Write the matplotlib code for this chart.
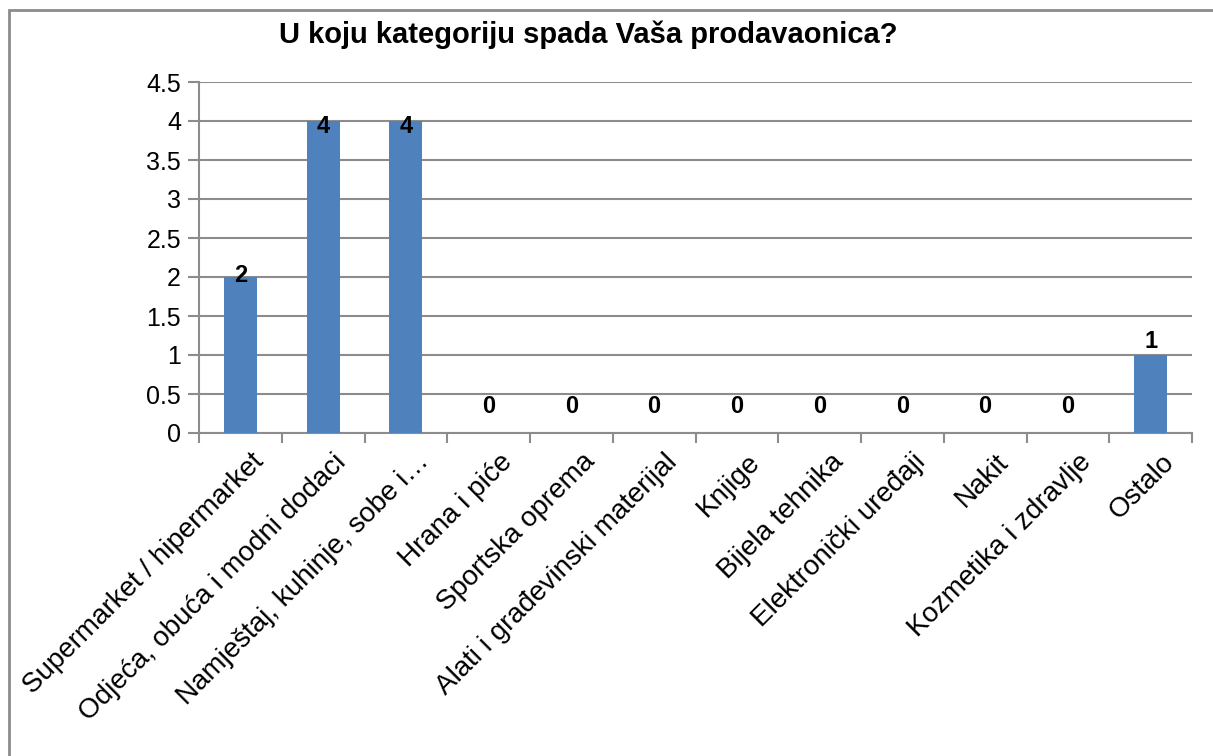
import matplotlib
matplotlib.use("Agg")
import matplotlib.pyplot as plt
from matplotlib.patches import Rectangle
from matplotlib.transforms import offset_copy
import numpy as np

plt.rcParams['font.family'] = ['Liberation Sans', 'DejaVu Sans']

title = "U koju kategoriju spada Vaša prodavaonica?"
categories = [
    "Supermarket / hipermarket",
    "Odjeća, obuća i modni dodaci",
    "Namještaj, kuhinje, sobe i…",
    "Hrana i piće",
    "Sportska oprema",
    "Alati i građevinski materijal",
    "Knjige",
    "Bijela tehnika",
    "Elektronički uređaji",
    "Nakit",
    "Kozmetika i zdravlje",
    "Ostalo",
]
values = [2, 4, 4, 0, 0, 0, 0, 0, 0, 0, 0, 1]
yticks = [0, 0.5, 1, 1.5, 2, 2.5, 3, 3.5, 4, 4.5]
ytick_labels = ["0", "0.5", "1", "1.5", "2", "2.5", "3", "3.5", "4", "4.5"]
# vertical offset of each data label centre from bar top, in points (style)
label_offsets = {4: -4, 2: 1, 1: 10, 0: 19}

W, H, DPI = 1213, 756, 100
fig = plt.figure(figsize=(W / DPI, H / DPI), dpi=DPI)
fig.patch.set_facecolor("white")

# outer frame (top and left edges visible)
fig.add_artist(Rectangle((9 / W, -0.05), 1.2, (H - 10) / H + 0.05,
                         transform=fig.transFigure, fill=False,
                         edgecolor="#8c8c8c", linewidth=2))

ax = fig.add_axes([199 / W, 1 - 433 / H, (1192 - 199) / W, (433 - 82) / H])
x = np.arange(len(categories))
ax.bar(x, values, width=0.40, color="#4F81BD", zorder=3)

ax.set_xlim(-0.5, len(categories) - 0.5)
ax.set_ylim(0, 4.5)
ax.set_yticks(yticks)
ax.set_yticklabels(ytick_labels, fontsize=18)
ax.yaxis.grid(True, color="#8c8c8c", linewidth=1.5, zorder=0)

for s in ["top", "right"]:
    ax.spines[s].set_visible(False)
for s in ["left", "bottom"]:
    ax.spines[s].set_color("#8c8c8c")
    ax.spines[s].set_linewidth(1.5)

ax.tick_params(axis="y", length=8, width=1.5, color="#8c8c8c", pad=5)
ax.set_xticks(np.arange(-0.5, len(categories), 1.0))
ax.set_xticklabels([])
ax.tick_params(axis="x", which="major", length=7, width=1.5, color="#8c8c8c")
ax.set_xticks(x, minor=True)
ax.set_xticklabels(categories, minor=True, fontsize=20, rotation=45,
                   ha="right", va="center", rotation_mode="anchor")
ax.tick_params(axis="x", which="minor", length=0, pad=18)
for lab in ax.get_xticklabels(minor=True):
    lab.set_transform(offset_copy(lab.get_transform(), fig=fig, x=14, y=0, units="points"))

for xi, v in zip(x, values):
    tr = offset_copy(ax.transData, fig=fig, x=0, y=label_offsets.get(v, 8), units="points")
    ax.text(xi, v, str(v), transform=tr, ha="center", va="center",
            fontsize=17, fontweight="bold", zorder=4)

fig.text(588 / W, 1 - 35 / H, title, ha="center", va="center",
         fontsize=21, fontweight="bold")

fig.savefig("out.png", dpi=DPI)
